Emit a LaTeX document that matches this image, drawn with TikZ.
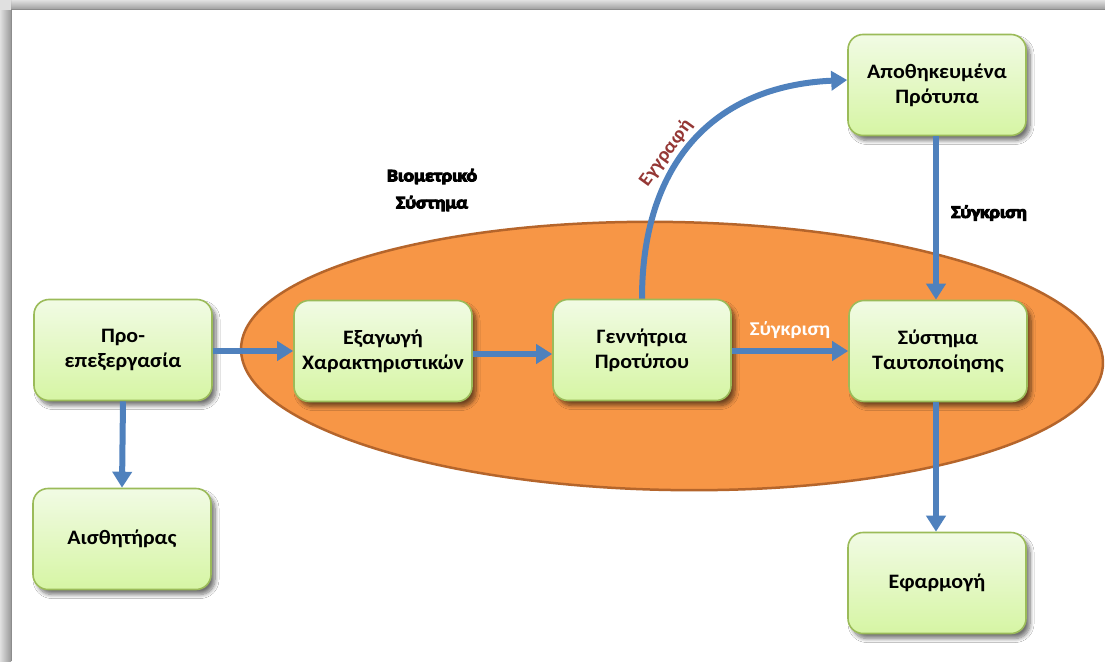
\documentclass[tikz,border=0pt]{standalone}
\usepackage{fontspec}
\setmainfont{Carlito}[FakeStretch=1.07]
\newfontfamily\heavyfont[FakeBold=6,FakeStretch=1.12]{Carlito Bold}
\usetikzlibrary{arrows.meta,shadows.blur}
\definecolor{boxtop}{HTML}{F1FBE4}
\definecolor{boxbot}{HTML}{D6F5A4}
\definecolor{boxline}{HTML}{9BBB59}
\definecolor{flow}{HTML}{4F81BD}
\definecolor{core}{HTML}{F79646}
\definecolor{coreline}{HTML}{B5652B}
\definecolor{enroll}{HTML}{953735}
\begin{document}
\begin{tikzpicture}[x=1pt,y=-1pt,
  stage/.style={draw=boxline, line width=1.6pt, rounded corners=15pt,
    top color=boxtop, bottom color=boxbot,
    minimum width=178pt, minimum height=101pt, inner sep=0pt,
    align=center, font=\bfseries\fontsize{20.5}{25}\selectfont,
    blur shadow={shadow xshift=4pt, shadow yshift=-5pt,
      shadow blur radius=4pt, shadow blur steps=8, shadow opacity=55}},
  flowarrow/.style={draw=flow, line width=6pt,
    -{Triangle[length=16pt,width=19pt]}},
  heavylabel/.style={font=\heavyfont\fontsize{17.5}{27}\selectfont, align=center}]
\useasboundingbox (0,0) rectangle (1105,661);
% page with its shadowed top and left edges
\fill[white] (0,0) rectangle (1105,661);
\shade[top color=black!12, bottom color=black!40] (0,0) rectangle (1105,10);
\shade[left color=black!12, right color=black!40] (0,0) rectangle (11,661);
\fill[black!12] (0,0) rectangle (11,10);
\draw[black!45, line width=1pt] (11,661) -- (11,10) -- (1105,10);

% the biometric system core
\draw[fill=core, draw=coreline, line width=2.5pt, rotate around={-1:(672,356)}]
  (672,356) ellipse [x radius=431, y radius=134];

% processing stages
\node[stage] (pre)   at (123,350) {Προ-\\επεξεργασία};
\node[stage] (sens)  at (122,539) {Αισθητήρας};
\node[stage] (feat)  at (383,351) {Εξαγωγή\\Χαρακτηριστικών};
\node[stage] (gen)   at (642,350) {Γεννήτρια\\Προτύπου};
\node[stage] (ident) at (938,351) {Σύστημα\\Ταυτοποίησης};
\node[stage] (store) at (937,85)  {Αποθηκευμένα\\Πρότυπα};
\node[stage] (app)   at (937,583) {Εφαρμογή};

% connectors
\draw[flowarrow] (pre.east |- 0,351) -- (feat.west |- 0,351);
\draw[flowarrow] (feat.east |- 0,354) -- (gen.west |- 0,354);
\draw[flowarrow] (gen.east |- 0,351) -- node[above=6pt, text=white,
  font=\bfseries\fontsize{19.5}{22}\selectfont] {Σύγκριση} (ident.west |- 0,351);
\draw[flowarrow] (pre.south) -- (sens.north);
\draw[flowarrow] (store.south -| 936,0) -- (ident.north -| 936,0);
\draw[flowarrow] (ident.south -| 936,0) -- (app.north -| 936,0);
\coordinate (gentop) at (gen.north);
\draw[flowarrow] (gentop) .. controls (642,165) and (712,86) .. (store.west |- 0,80);

% free labels
\node[text=enroll, rotate=54, font=\bfseries\fontsize{19}{20}\selectfont]
  (enrolltag) at (666,153) {Εγγραφή};
\node[heavylabel] (systag) at (432,190) {Βιομετρικό\\Σύστημα};
\node[heavylabel] (cmptag) at (989,213) {Σύγκριση};
\end{tikzpicture}
\end{document}
